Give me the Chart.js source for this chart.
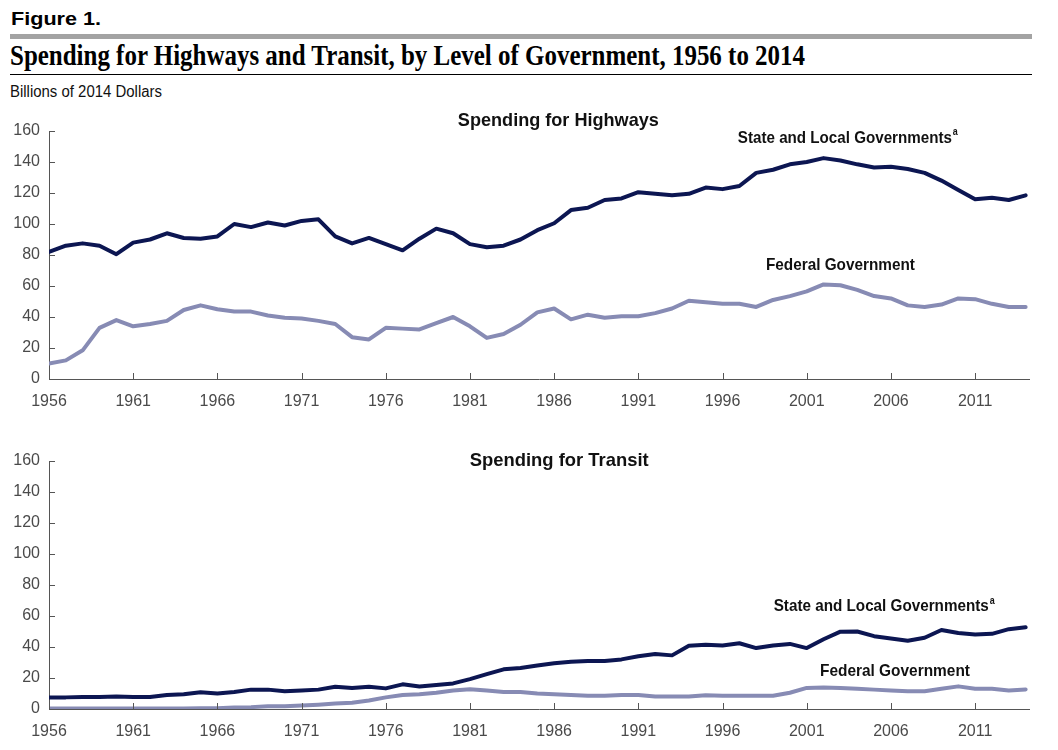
<!DOCTYPE html>
<html>
<head>
<meta charset="utf-8">
<title>Spending for Highways and Transit</title>
<script src="https://cdn.jsdelivr.net/npm/chart.js@4.4.1/dist/chart.umd.min.js"></script>
<style>
    body { margin: 0; background: #fff; width: 1058px; height: 750px; overflow: hidden; position: relative; }
    .fit { position: absolute; white-space: nowrap; display: inline-block; transform-origin: 0 0; }
    #fig { left: 11px; top: 9px; font: bold 18px 'Liberation Sans', Arial, sans-serif; color: #000; }
    #greybar { position: absolute; left: 10px; top: 34px; width: 1022px; height: 5px; background: #a3a3a3; }
    #title { left: 10px; top: 39px; font: bold 29px 'Liberation Serif', 'Times New Roman', serif; color: #000; }
    #rule { position: absolute; left: 10px; top: 74px; width: 1022px; height: 1px; background: #000; }
    #units { left: 10px; top: 83px; font: 16px 'Liberation Sans', Arial, sans-serif; color: #111; }
    canvas { position: absolute; left: 0; }
    #highways { top: 100px; }
    #transit { top: 430px; }
</style>
</head>
<body>
<div id="fig" class="fit" data-w="90">Figure 1.</div>
<div id="greybar"></div>
<div id="title" class="fit" data-w="795">Spending for Highways and Transit, by Level of Government, 1956 to 2014</div>
<div id="rule"></div>
<div id="units" class="fit" data-w="152">Billions of 2014 Dollars</div>
<canvas id="highways" width="1058" height="320"></canvas>
<canvas id="transit" width="1058" height="320"></canvas>
<script>
// Años y etiquetas del eje
const years = [1956, 1957, 1958, 1959, 1960, 1961, 1962, 1963, 1964, 1965,
               1966, 1967, 1968, 1969, 1970, 1971, 1972, 1973, 1974, 1975,
               1976, 1977, 1978, 1979, 1980, 1981, 1982, 1983, 1984, 1985,
               1986, 1987, 1988, 1989, 1990, 1991, 1992, 1993, 1994, 1995,
               1996, 1997, 1998, 1999, 2000, 2001, 2002, 2003, 2004, 2005,
               2006, 2007, 2008, 2009, 2010, 2011, 2012, 2013, 2014];
const tickYears = [1956, 1961, 1966, 1971, 1976, 1981, 1986, 1991, 1996, 2001, 2006, 2011];
const tickValues = [0, 20, 40, 60, 80, 100, 120, 140, 160];

// Carreteras (miles de millones, dólares de 2014)
const highwayStateLocal = [82, 86, 87.5, 86, 80.5, 88, 90, 94, 91, 90.5,
                           92, 100, 98, 101, 99, 102, 103, 92, 87.5, 91,
                           87, 83, 90.5, 97, 94, 87, 85, 86, 90, 96,
                           100.5, 109, 110.5, 115.5, 116.5, 120.5, 119.5, 118.5, 119.5, 123.5,
                           122.5, 124.5, 133, 135, 138.5, 140, 142.5, 141, 138.5, 136.5,
                           137, 135.5, 133, 128, 122, 116, 117, 115.5, 118.5];
const highwayFederal = [10, 12, 18.5, 33, 38, 34, 35.5, 37.5, 44.5, 47.5,
                        45, 43.5, 43.5, 41, 39.5, 39, 37.5, 35.5, 27, 25.5,
                        33, 32.5, 32, 36, 40, 34, 26.5, 29, 35, 43,
                        45.5, 38.5, 41.5, 39.5, 40.5, 40.5, 42.5, 45.5, 50.5, 49.5,
                        48.5, 48.5, 46.5, 51, 53.5, 56.5, 61, 60.5, 57.5, 53.5,
                        52, 47.5, 46.5, 48, 52, 51.5, 48.5, 46.5, 46.5];

// Transporte público
const transitStateLocal = [7.5, 7.5, 7.8, 7.8, 8, 7.8, 7.8, 9, 9.5, 10.8,
                           10, 11, 12.5, 12.5, 11.5, 12, 12.5, 14.4, 13.5, 14.4,
                           13.3, 15.9, 14.5, 15.5, 16.5, 19.3, 22.5, 25.6, 26.5, 28,
                           29.5, 30.5, 31, 31, 32, 34, 35.5, 34.6, 40.8, 41.5,
                           41, 42.4, 39.3, 41, 42, 39.3, 45, 49.9, 50, 47,
                           45.5, 44, 46, 51, 49, 48, 48.5, 51.5, 52.7];
const transitFederal = [0.3, 0.3, 0.3, 0.3, 0.3, 0.3, 0.3, 0.3, 0.3, 0.5,
                        0.5, 1, 1.2, 1.8, 1.8, 2.3, 2.8, 3.5, 4, 5.5,
                        7.5, 9, 9.5, 10.5, 12, 12.8, 12, 11, 11, 10,
                        9.5, 9, 8.5, 8.5, 9, 9, 8, 8, 8, 8.8,
                        8.5, 8.5, 8.5, 8.5, 10.5, 13.6, 13.8, 13.5, 13, 12.5,
                        12, 11.5, 11.5, 13, 14.6, 13, 13, 12, 12.6];

const DARK = '#0c1652';
const LIGHT = '#878bb4';
const AXIS = '#555555';
const FONT = "'Liberation Sans', Arial, sans-serif";

// Ajustar textos del encabezado al ancho del original
document.querySelectorAll('.fit').forEach(el => {
    const w = el.getBoundingClientRect().width;
    el.style.transform = `scaleX(${el.dataset.w / w})`;
});

// Marcas de graduación hacia el interior
const innerTicks = {
    id: 'innerTicks',
    afterDatasetsDraw(chart) {
        const { ctx, chartArea, scales } = chart;
        ctx.save();
        ctx.strokeStyle = AXIS;
        ctx.lineWidth = 1;
        ctx.beginPath();
        tickYears.forEach(v => {
            const x = Math.round(scales.x.getPixelForValue(v)) + 0.5;
            ctx.moveTo(x, chartArea.bottom);
            ctx.lineTo(x, chartArea.bottom - 6);
        });
        tickValues.forEach(v => {
            const y = Math.round(scales.y.getPixelForValue(v)) + 0.5;
            ctx.moveTo(chartArea.left, y);
            ctx.lineTo(chartArea.left + 6, y);
        });
        ctx.stroke();
        ctx.restore();
    }
};

// Rótulos dentro del gráfico
const notesPlugin = {
    id: 'notes',
    afterDraw(chart, args, opts) {
        const { ctx, scales } = chart;
        (opts.items || []).forEach(n => {
            ctx.save();
            const x = scales.x.getPixelForValue(n.year);
            const y = scales.y.getPixelForValue(n.value);
            ctx.font = `bold ${n.size}px ${FONT}`;
            const mainW = ctx.measureText(n.text).width;
            ctx.font = `bold ${Math.round(n.size * 0.6)}px ${FONT}`;
            const supW = n.sup ? ctx.measureText(n.sup).width + 1 : 0;
            const total = mainW + supW;
            const k = n.w ? n.w / total : 1;
            ctx.translate(x - n.w / 2, y);
            ctx.scale(k, 1);
            ctx.fillStyle = '#111';
            ctx.textBaseline = 'middle';
            ctx.textAlign = 'left';
            ctx.font = `bold ${n.size}px ${FONT}`;
            ctx.fillText(n.text, 0, 0);
            if (n.sup) {
                ctx.font = `bold ${Math.round(n.size * 0.6)}px ${FONT}`;
                ctx.fillText(n.sup, mainW + 1, -n.size * 0.35);
            }
            ctx.restore();
        });
    }
};

function makeChart(canvasId, stateLocal, federal, notes) {
    const toPoints = arr => arr.map((v, i) => ({ x: years[i], y: v }));
    return new Chart(document.getElementById(canvasId), {
        type: 'line',
        data: {
            datasets: [
                {
                    label: 'State and Local Governments',
                    data: toPoints(stateLocal),
                    borderColor: DARK,
                    borderWidth: 4,
                    pointRadius: 0,
                    tension: 0,
                    borderJoinStyle: 'round',
                    borderCapStyle: 'round'
                },
                {
                    label: 'Federal Government',
                    data: toPoints(federal),
                    borderColor: LIGHT,
                    borderWidth: 4,
                    pointRadius: 0,
                    tension: 0,
                    borderJoinStyle: 'round',
                    borderCapStyle: 'round'
                }
            ]
        },
        options: {
            responsive: false,
            animation: false,
            layout: { padding: { top: 31, right: 29, bottom: 11, left: 0 } },
            plugins: {
                legend: { display: false },
                tooltip: { enabled: false },
                notes: { items: notes }
            },
            scales: {
                x: {
                    type: 'linear',
                    min: 1956,
                    max: 2014.2,
                    afterBuildTicks: s => { s.ticks = tickYears.map(v => ({ value: v })); },
                    afterFit: s => { s.height = 30; },
                    grid: { display: false, drawTicks: false },
                    border: { color: AXIS, width: 1 },
                    ticks: {
                        color: '#4a4a4a',
                        font: { family: FONT, size: 16 },
                        padding: 13,
                        maxRotation: 0,
                        autoSkip: false,
                        callback: v => String(v)
                    }
                },
                y: {
                    min: 0,
                    max: 160,
                    afterBuildTicks: s => { s.ticks = tickValues.map(v => ({ value: v })); },
                    afterFit: s => { s.width = 49; },
                    grid: { display: false, drawTicks: false },
                    border: { color: AXIS, width: 1 },
                    ticks: {
                        color: '#4a4a4a',
                        font: { family: FONT, size: 16 },
                        padding: 9
                    }
                }
            }
        },
        plugins: [innerTicks, notesPlugin]
    });
}

makeChart('highways', highwayStateLocal, highwayFederal, [
    { text: 'Spending for Highways', year: 1986.25, value: 166.5, w: 201, size: 19 },
    { text: 'State and Local Governments', sup: 'a', year: 2003.44, value: 155.3, w: 220, size: 17 },
    { text: 'Federal Government', year: 2003.0, value: 73.1, w: 149, size: 17 }
]);

makeChart('transit', transitStateLocal, transitFederal, [
    { text: 'Spending for Transit', year: 1986.3, value: 160.2, w: 179, size: 19 },
    { text: 'State and Local Governments', sup: 'a', year: 2005.6, value: 66, w: 221, size: 17 },
    { text: 'Federal Government', year: 2006.24, value: 24, w: 150, size: 17 }
]);
</script>
</body>
</html>
